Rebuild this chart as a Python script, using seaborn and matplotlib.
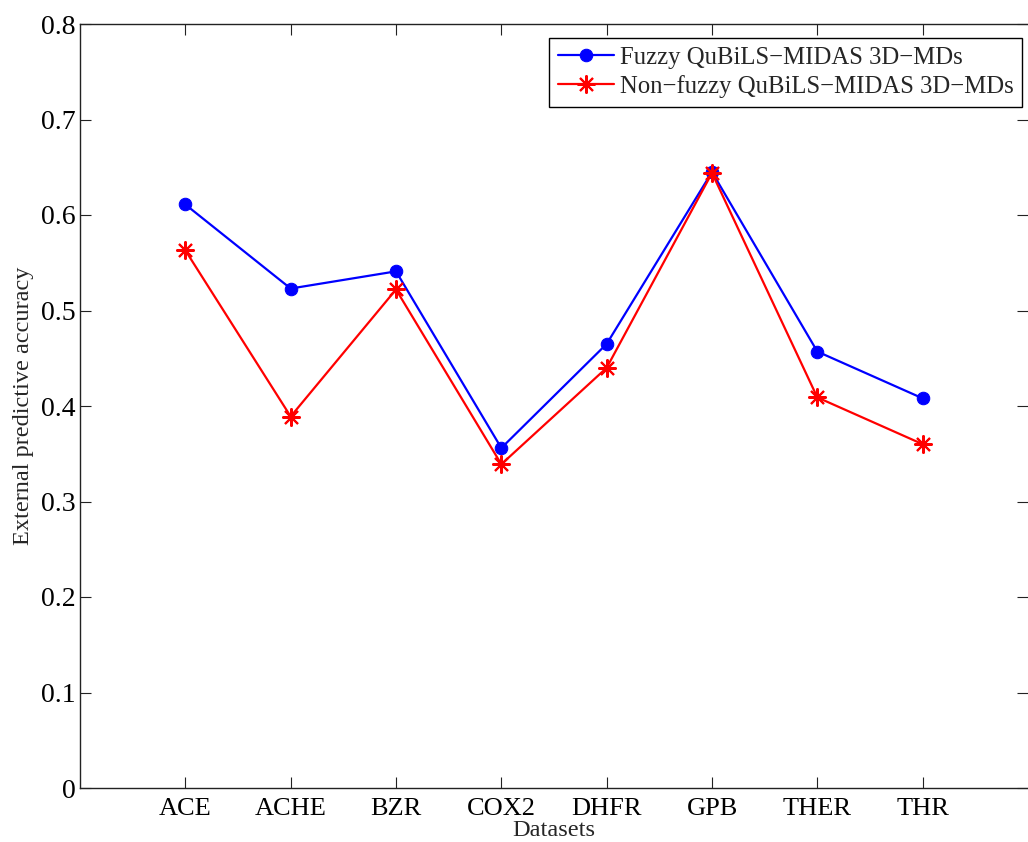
import numpy as np
import pandas as pd
import matplotlib
matplotlib.use("Agg")
import matplotlib.pyplot as plt
import seaborn as sns

datasets = ["ACE", "ACHE", "BZR", "COX2", "DHFR", "GPB", "THER", "THR"]
fuzzy = [0.611, 0.523, 0.541, 0.356, 0.465, 0.645, 0.457, 0.408]
non_fuzzy = [0.563, 0.389, 0.522, 0.339, 0.440, 0.644, 0.409, 0.360]
series_names = ["Fuzzy QuBiLS\u2212MIDAS 3D\u2212MDs",
                "Non\u2212fuzzy QuBiLS\u2212MIDAS 3D\u2212MDs"]
y_ticks = [0, 0.1, 0.2, 0.3, 0.4, 0.5, 0.6, 0.7, 0.8]
y_tick_labels = ["0", "0.1", "0.2", "0.3", "0.4", "0.5", "0.6", "0.7", "0.8"]

sns.set_theme(style="white")
plt.rcParams["font.family"] = ["Liberation Serif", "DejaVu Serif"]

df_fuzzy = pd.DataFrame({"Datasets": datasets, "value": fuzzy})
df_non = pd.DataFrame({"Datasets": datasets, "value": non_fuzzy})

fig = plt.figure(figsize=(10.28, 8.42), dpi=100)
ax = fig.add_axes([80 / 1028, 54 / 842, 948 / 1028, 764 / 842])

sns.lineplot(data=df_fuzzy, x="Datasets", y="value", color="#0000ff",
             marker="o", markersize=9, markeredgecolor="#0000ff",
             markerfacecolor="#0000ff", linewidth=1.6, sort=False,
             label=series_names[0], ax=ax)
sns.lineplot(data=df_non, x="Datasets", y="value", color="#ff0000",
             marker=(8, 2, 0), markersize=13, markeredgecolor="#ff0000",
             markeredgewidth=1.5, linewidth=1.6, sort=False,
             label=series_names[1], ax=ax)

ax.set_xlim(-1, 8)
ax.set_ylim(0, 0.8)
ax.set_yticks(y_ticks)
ax.set_yticklabels(y_tick_labels)
ax.set_xticks(range(len(datasets)))
ax.set_xticklabels(datasets)

ax.tick_params(direction="in", length=8, width=0.8, top=True, right=True,
               bottom=True, left=True, colors="#222222", labelcolor="black")
ax.tick_params(axis="y", labelsize=20, pad=3)
ax.tick_params(axis="x", labelsize=19, pad=7)
for side in ["left", "bottom", "top"]:
    ax.spines[side].set_color("#222222")
    ax.spines[side].set_linewidth(1.0)
ax.spines["right"].set_visible(False)

ax.set_xlabel("Datasets", fontsize=17.5, labelpad=0)
ax.set_ylabel("External predictive accuracy", fontsize=17.5, labelpad=5)

leg = ax.legend(loc="upper left", fontsize=17.8,
                bbox_to_anchor=(549 / 1028, 1 - 38 / 842),
                bbox_transform=fig.transFigure,
                frameon=True, fancybox=False, edgecolor="black",
                borderaxespad=0, handlelength=2.27, borderpad=0.35,
                labelspacing=0.25, handletextpad=0.25)
leg.get_frame().set_linewidth(1.0)
leg.get_frame().set_alpha(1.0)

fig.savefig("out.png", dpi=100)
